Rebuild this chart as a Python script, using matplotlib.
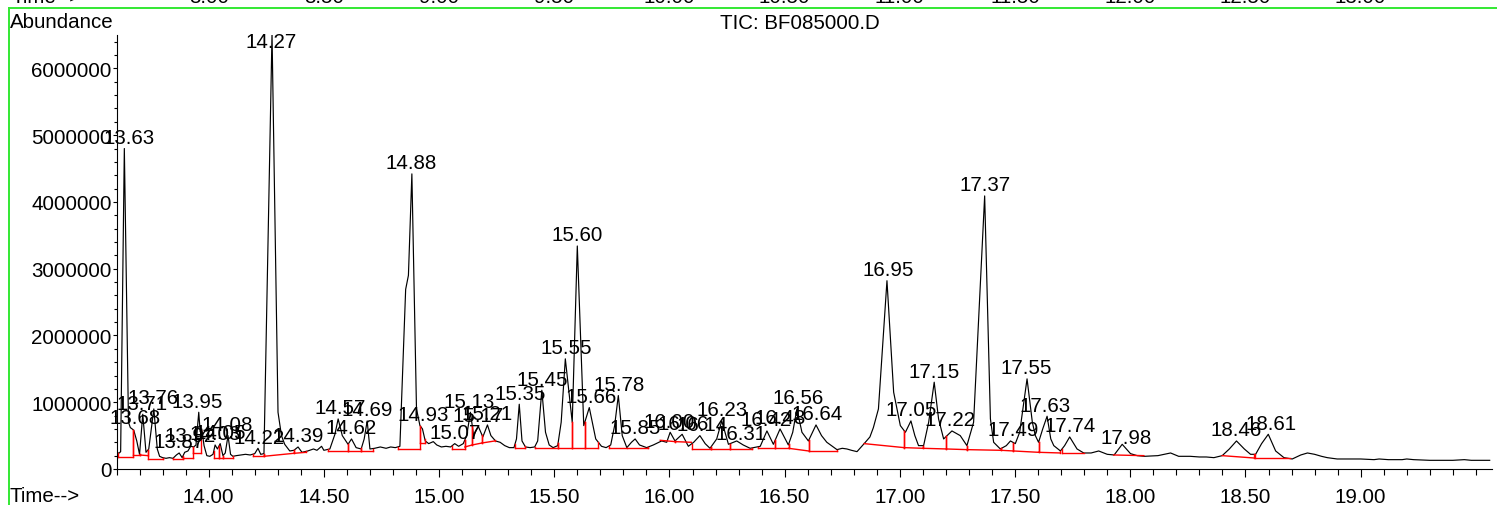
import matplotlib

matplotlib.use("Agg")

import matplotlib.pyplot as plt
import numpy as np
from matplotlib.lines import Line2D
from matplotlib.ticker import FixedLocator, FormatStrFormatter, MultipleLocator
from matplotlib.transforms import ScaledTranslation, blended_transform_factory


# --------------------------------------------------
# DATA
# --------------------------------------------------

# TIC trace: retention time (min) and abundance (millions of counts)
time_min = [
    13.600, 13.612, 13.618, 13.634, 13.652, 13.660, 13.668, 13.675, 13.688, 13.700,
    13.714, 13.728, 13.740, 13.762, 13.777, 13.787, 13.800, 13.815, 13.830, 13.845,
    13.860, 13.872, 13.885, 13.896, 13.910, 13.922, 13.935, 13.945, 13.957, 13.963,
    13.970, 13.980, 13.992, 14.005, 14.019, 14.028, 14.038, 14.050, 14.062, 14.072,
    14.084, 14.095, 14.105, 14.120, 14.140, 14.160, 14.180, 14.200, 14.214, 14.226,
    14.240, 14.275, 14.301, 14.316, 14.330, 14.352, 14.370, 14.388, 14.405, 14.430,
    14.455, 14.470, 14.490, 14.500, 14.526, 14.548, 14.562, 14.580, 14.605, 14.620,
    14.640, 14.662, 14.675, 14.688, 14.700, 14.720, 14.745, 14.770, 14.790, 14.810,
    14.830, 14.855, 14.867, 14.882, 14.902, 14.917, 14.928, 14.940, 14.955, 14.975,
    14.990, 15.010, 15.030, 15.050, 15.068, 15.085, 15.105, 15.120, 15.136, 15.150,
    15.170, 15.190, 15.210, 15.225, 15.245, 15.265, 15.285, 15.305, 15.325, 15.336,
    15.348, 15.360, 15.375, 15.395, 15.415, 15.428, 15.446, 15.462, 15.478, 15.495,
    15.515, 15.530, 15.548, 15.578, 15.600, 15.628, 15.652, 15.680, 15.705, 15.725,
    15.745, 15.762, 15.778, 15.795, 15.815, 15.835, 15.851, 15.870, 15.901, 15.930,
    15.966, 15.988, 16.003, 16.024, 16.055, 16.082, 16.105, 16.132, 16.155, 16.176,
    16.205, 16.227, 16.256, 16.292, 16.320, 16.350, 16.394, 16.423, 16.451, 16.480,
    16.516, 16.535, 16.553, 16.575, 16.603, 16.636, 16.660, 16.683, 16.727, 16.750,
    16.770, 16.790, 16.814, 16.845, 16.870, 16.885, 16.907, 16.944, 16.973, 17.002,
    17.024, 17.048, 17.065, 17.081, 17.103, 17.125, 17.149, 17.168, 17.190, 17.226,
    17.262, 17.291, 17.320, 17.368, 17.393, 17.407, 17.436, 17.462, 17.480, 17.501,
    17.520, 17.552, 17.575, 17.588, 17.602, 17.620, 17.639, 17.655, 17.668, 17.697,
    17.715, 17.737, 17.769, 17.798, 17.830, 17.863, 17.900, 17.930, 17.965, 18.001,
    18.030, 18.061, 18.120, 18.175, 18.210, 18.260, 18.300, 18.330, 18.363, 18.399,
    18.430, 18.461, 18.495, 18.522, 18.544, 18.570, 18.599, 18.631, 18.667, 18.703,
    18.740, 18.769, 18.800, 18.830, 18.855, 18.898, 18.950, 19.000, 19.058, 19.080,
    19.120, 19.180, 19.200, 19.230, 19.300, 19.400, 19.450, 19.480, 19.560,
]

abundance_millions = [
    0.24, 0.24, 0.26, 4.80, 0.70, 0.62, 0.60, 0.58, 0.42, 0.22,
    0.82, 0.25, 0.30, 0.90, 0.30, 0.19, 0.17, 0.16, 0.17, 0.16,
    0.21, 0.24, 0.17, 0.25, 0.27, 0.34, 0.33, 0.36, 0.85, 0.56,
    0.60, 0.35, 0.20, 0.19, 0.22, 0.36, 0.30, 0.38, 0.20, 0.24,
    0.50, 0.22, 0.19, 0.20, 0.21, 0.22, 0.21, 0.23, 0.31, 0.22,
    0.23, 6.52, 0.85, 0.50, 0.37, 0.27, 0.28, 0.33, 0.25, 0.27,
    0.30, 0.28, 0.34, 0.28, 0.30, 0.52, 0.75, 0.50, 0.37, 0.45,
    0.32, 0.30, 0.45, 0.72, 0.30, 0.31, 0.33, 0.31, 0.33, 0.32,
    0.34, 2.69, 2.90, 4.42, 0.90, 0.65, 0.60, 0.42, 0.38, 0.41,
    0.36, 0.33, 0.34, 0.33, 0.38, 0.34, 0.38, 0.50, 0.85, 0.50,
    0.64, 0.48, 0.66, 0.50, 0.42, 0.40, 0.35, 0.32, 0.32, 0.45,
    0.97, 0.42, 0.33, 0.32, 0.33, 0.42, 1.18, 0.55, 0.36, 0.32,
    0.35, 0.70, 1.65, 0.70, 3.34, 0.65, 0.92, 0.45, 0.34, 0.32,
    0.36, 0.65, 1.10, 0.50, 0.32, 0.40, 0.45, 0.36, 0.32, 0.36,
    0.42, 0.40, 0.55, 0.42, 0.52, 0.34, 0.40, 0.50, 0.38, 0.31,
    0.45, 0.72, 0.37, 0.42, 0.36, 0.31, 0.34, 0.57, 0.37, 0.60,
    0.36, 0.55, 0.90, 0.55, 0.42, 0.66, 0.50, 0.40, 0.29, 0.31,
    0.30, 0.28, 0.26, 0.38, 0.48, 0.62, 0.90, 2.82, 1.15, 0.65,
    0.55, 0.72, 0.50, 0.35, 0.35, 0.70, 1.30, 0.75, 0.45, 0.57,
    0.50, 0.35, 0.70, 4.09, 0.75, 0.40, 0.30, 0.35, 0.42, 0.38,
    0.55, 1.35, 0.70, 0.50, 0.40, 0.60, 0.79, 0.45, 0.35, 0.27,
    0.35, 0.48, 0.30, 0.24, 0.24, 0.27, 0.22, 0.21, 0.37, 0.23,
    0.20, 0.19, 0.20, 0.24, 0.19, 0.19, 0.18, 0.18, 0.17, 0.20,
    0.30, 0.42, 0.30, 0.22, 0.22, 0.38, 0.52, 0.27, 0.17, 0.15,
    0.21, 0.24, 0.22, 0.19, 0.17, 0.15, 0.15, 0.15, 0.14, 0.15,
    0.14, 0.14, 0.15, 0.14, 0.13, 0.13, 0.14, 0.13, 0.13,
]

# integrated peaks: retention time labels
peak_labels = [
    "13.63", "13.68", "13.71", "13.76", "13.87", "13.92", "13.95", "14.03",
    "14.05", "14.08", "14.22", "14.27", "14.39", "14.57", "14.62", "14.69",
    "14.88", "14.93", "15.07", "15.13", "15.17", "15.21", "15.35", "15.45",
    "15.55", "15.60", "15.66", "15.78", "15.85", "16.00", "16.06", "16.14",
    "16.23", "16.31", "16.42", "16.48", "16.56", "16.64", "16.95", "17.05",
    "17.15", "17.22", "17.37", "17.49", "17.55", "17.63", "17.74", "17.98",
    "18.46", "18.61",
]

# integration baselines: start / end time and level (millions)
base_start_time = [
    13.606, 13.671, 13.700, 13.737, 13.844, 13.888, 13.932, 14.022, 14.045,
    14.062, 14.192, 14.239, 14.370, 14.518, 14.605, 14.663, 14.822, 14.917,
    15.054, 15.112, 15.144, 15.187, 15.329, 15.416, 15.517, 15.578, 15.633,
    15.738, 15.815, 15.960, 16.024, 16.097, 16.180, 16.263, 16.386, 16.459,
    16.517, 16.604, 16.845, 17.019, 17.100, 17.202, 17.291, 17.440, 17.493,
    17.602, 17.704, 17.928, 18.399, 18.543,
]
base_start_level = [
    0.18, 0.21, 0.21, 0.15, 0.15, 0.17, 0.24, 0.17, 0.17,
    0.17, 0.19, 0.19, 0.235, 0.27, 0.27, 0.27, 0.30, 0.39,
    0.30, 0.33, 0.36, 0.39, 0.31, 0.31, 0.31, 0.31, 0.31,
    0.31, 0.31, 0.43, 0.41, 0.30, 0.30, 0.30, 0.31, 0.31,
    0.31, 0.27, 0.38, 0.32, 0.31, 0.30, 0.29, 0.28, 0.27,
    0.25, 0.24, 0.21, 0.20, 0.16,
]
base_end_time = [
    13.671, 13.700, 13.737, 13.802, 13.887, 13.932, 13.968, 14.045, 14.062,
    14.106, 14.239, 14.370, 14.424, 14.605, 14.663, 14.714, 14.917, 14.938,
    15.112, 15.144, 15.187, 15.242, 15.373, 15.517, 15.578, 15.633, 15.691,
    15.815, 15.908, 16.024, 16.095, 16.180, 16.263, 16.357, 16.459, 16.517,
    16.604, 16.727, 17.019, 17.100, 17.202, 17.291, 17.440, 17.493, 17.602,
    17.697, 17.798, 18.059, 18.536, 18.695,
]
base_end_level = [
    0.18, 0.21, 0.20, 0.15, 0.15, 0.17, 0.24, 0.17, 0.17,
    0.17, 0.19, 0.235, 0.25, 0.27, 0.27, 0.27, 0.30, 0.39,
    0.30, 0.36, 0.39, 0.42, 0.31, 0.31, 0.31, 0.31, 0.31,
    0.31, 0.31, 0.41, 0.40, 0.30, 0.30, 0.30, 0.31, 0.31,
    0.27, 0.27, 0.32, 0.31, 0.30, 0.29, 0.28, 0.27, 0.25,
    0.24, 0.24, 0.20, 0.165, 0.16,
]

# labelled time ticks of this window and of the previous one (cut at the top)
time_ticks = [14.0, 14.5, 15.0, 15.5, 16.0, 16.5, 17.0, 17.5, 18.0, 18.5, 19.0]
prev_ticks = [8.0, 8.5, 9.0, 9.5, 10.0, 10.5, 11.0, 11.5, 12.0, 12.5, 13.0]


# --------------------------------------------------
# LAYOUT
# --------------------------------------------------

W, H = 1497, 506
FONT = 14.8
GREEN = "#33e833"

plt.rcParams["font.family"] = ["Liberation Sans", "DejaVu Sans"]
plt.rcParams["font.size"] = FONT

t = np.array(time_min)
a = np.array(abundance_millions) * 1e6

fig = plt.figure(figsize=(W / 100, H / 100), dpi=100)

ax_left = 116.5 / W
ax_width = (1492 - 116.5) / W
ax_height_px = 434

ax = fig.add_axes([ax_left, (H - 470) / H, ax_width, ax_height_px / H])


def style_time_axis(axis, ticks):
    for side in ("top", "right"):
        axis.spines[side].set_visible(False)
    axis.xaxis.set_major_locator(FixedLocator(ticks))
    axis.xaxis.set_minor_locator(MultipleLocator(0.1))
    axis.xaxis.set_major_formatter(FormatStrFormatter("%.2f"))
    axis.tick_params(axis="x", which="major", length=5.8, width=0.8, pad=7.2,
                     labelsize=FONT)
    axis.tick_params(axis="x", which="minor", length=4.0, width=0.8)


# --------------------------------------------------
# TRACE, BASELINES, LABELS
# --------------------------------------------------

ax.plot(t, a, color="black", linewidth=0.85)

for t0, l0, t1, l1 in zip(base_start_time, base_start_level,
                          base_end_time, base_end_level):
    ax.plot([t0, t1], [l0 * 1e6, l1 * 1e6], color="red", linewidth=1.0)
    for tt, ll in ((t0, l0), (t1, l1)):
        top = np.interp(tt, t, a)
        ax.plot([tt, tt], [ll * 1e6, max(top, ll * 1e6)],
                color="red", linewidth=1.0)

ymax = 6.5e6
label_trans = blended_transform_factory(ax.transData, ax.transAxes)

# first label sits a little right of its peak in the original
label_nudge_px = {"13.63": 6}

for lab in peak_labels:
    rt = float(lab)
    window = (t > rt - 0.015) & (t < rt + 0.015)
    apex = a[window].max() if window.any() else np.interp(rt, t, a)
    frac = min(apex / ymax, 1 - 18 / ax_height_px) + 5.5 / ax_height_px
    shift = ScaledTranslation(label_nudge_px.get(lab, 0) / 100, 0,
                              fig.dpi_scale_trans)
    ax.text(rt, frac, lab, transform=label_trans + shift, ha="center",
            va="baseline", fontsize=FONT)


# --------------------------------------------------
# AXES
# --------------------------------------------------

ax.set_xlim(13.60, 19.57)
ax.set_ylim(0, ymax)
style_time_axis(ax, time_ticks)

ax.yaxis.set_major_locator(MultipleLocator(1e6))
ax.yaxis.set_minor_locator(MultipleLocator(2e5))
ax.yaxis.set_major_formatter(FormatStrFormatter("%d"))
ax.tick_params(axis="y", which="major", length=3.0, width=0.8, pad=0.6,
               labelsize=FONT)
ax.tick_params(axis="y", which="minor", length=2.0, width=0.8)

# previous window strip, cut off at the top edge
ax_prev = fig.add_axes([ax_left, 1 + 30 / H, ax_width, 0.2])
ax_prev.set_xlim(7.60, 13.57)
style_time_axis(ax_prev, prev_ticks)
ax_prev.set_yticks([])
ax_prev.spines["left"].set_visible(False)

fig.text(11 / W, 1 - 3 / H, "Time-->", va="baseline", fontsize=FONT)
fig.text(10 / W, 1 - 28 / H, "Abundance", va="baseline", fontsize=FONT)
fig.text(800 / W, 1 - 29 / H, "TIC: BF085000.D", ha="center",
         va="baseline", fontsize=FONT)
fig.text(10 / W, 1 - 502 / H, "Time-->", va="baseline", fontsize=FONT)

# green selection frame
fig.add_artist(Line2D([9 / W, 1], [1 - 8.5 / H, 1 - 8.5 / H],
                      color=GREEN, linewidth=1.4))
fig.add_artist(Line2D([9 / W, 9 / W], [0, 1 - 8.5 / H],
                      color=GREEN, linewidth=1.4))


# --------------------------------------------------
# SAVE
# --------------------------------------------------

fig.savefig("out.png", dpi=100)
plt.close(fig)
